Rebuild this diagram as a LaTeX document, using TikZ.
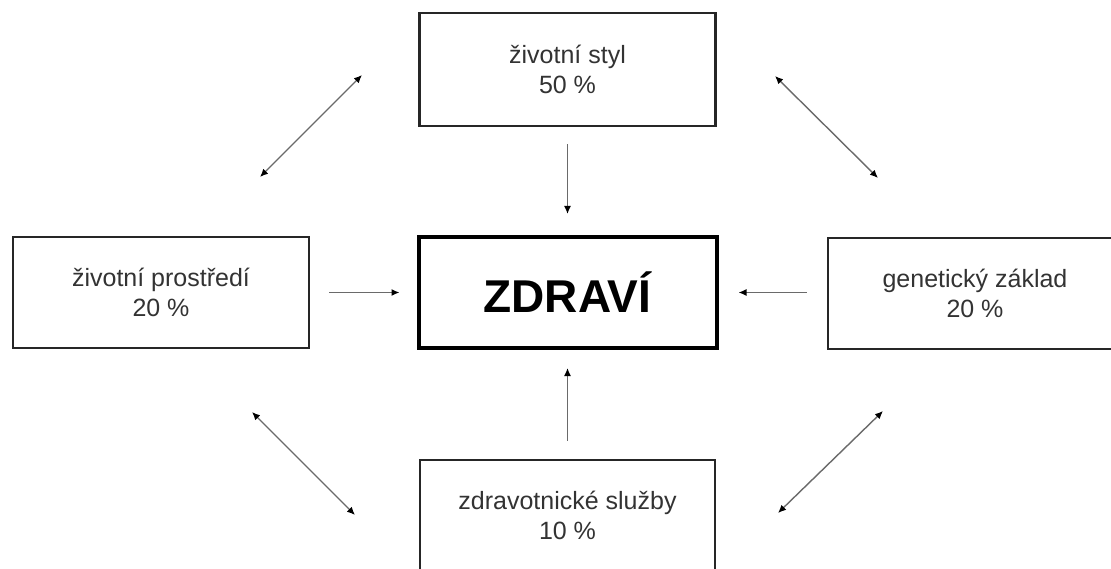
\documentclass[tikz,border=0pt]{standalone}
\usepackage{fontspec}
\setmainfont{Liberation Sans}
\usetikzlibrary{arrows.meta}
\definecolor{textgray}{HTML}{333333}
\definecolor{linegray}{HTML}{6A6A6A}

\begin{document}
\begin{tikzpicture}[x=1pt,y=-1pt]
      \tikzstyle{faktor}=[draw=black!85,line width=2.6pt,minimum width=296pt,minimum height=111pt,align=center,text=textgray,font=\fontsize{25}{30}\selectfont,inner sep=0pt]
      \tikzstyle{stred}=[draw=black,line width=4pt,minimum width=298pt,minimum height=111pt,font=\fontsize{46}{52}\selectfont\bfseries,inner sep=0pt]
      \tikzstyle{vliv}=[draw=linegray,line width=1.4pt,-{Latex[length=8pt,width=7pt,color=black]}]
      \tikzstyle{vazba}=[draw=linegray,line width=1.4pt,{Latex[length=8pt,width=7pt,color=black]}-{Latex[length=8pt,width=7pt,color=black]}]
      \useasboundingbox (0,0) rectangle (1111,569);
      \fill[white] (0,0) rectangle (1111,569);
      % uzly
      \node[stred] (zdravi) at (567.5,292.5) {ZDRAVÍ};
      \node[faktor,minimum height=113pt] (styl) at (567.5,69.5) {životní styl\\50 \%};
      \node[faktor] (prostredi) at (161,292.5) {životní prostředí\\20 \%};
      \node[faktor,minimum width=294pt] (genetika) at (975,293.5) {genetický základ\\20 \%};
      \node[faktor,minimum width=295pt] (sluzby) at (567.5,515.5) {zdravotnické služby\\10 \%};
      % vlivy na zdravi
      \draw[vliv,shorten <=17pt,shorten >=21pt] (styl.south) -- (zdravi.north);
      \draw[vliv,shorten <=18pt,shorten >=18pt] (sluzby.north) -- (zdravi.south);
      \draw[vliv,shorten <=19pt,shorten >=17pt] (prostredi.east) -- (zdravi.west);
      \draw[vliv,shorten <=20pt,shorten >=20pt] (genetika.west |- zdravi) -- (zdravi.east);
      % vzajemne vazby
      \coordinate (sl1) at (362,75);  \coordinate (sl2) at (260,177);
      \coordinate (sp1) at (775,76);  \coordinate (sp2) at (878,178);
      \coordinate (dl1) at (252,412); \coordinate (dl2) at (355,515);
      \coordinate (dp1) at (883,411); \coordinate (dp2) at (778,513);
      \draw[vazba] (sl1) -- (sl2);
      \draw[vazba] (sp1) -- (sp2);
      \draw[vazba] (dl1) -- (dl2);
      \draw[vazba] (dp1) -- (dp2);
\end{tikzpicture}
\end{document}
